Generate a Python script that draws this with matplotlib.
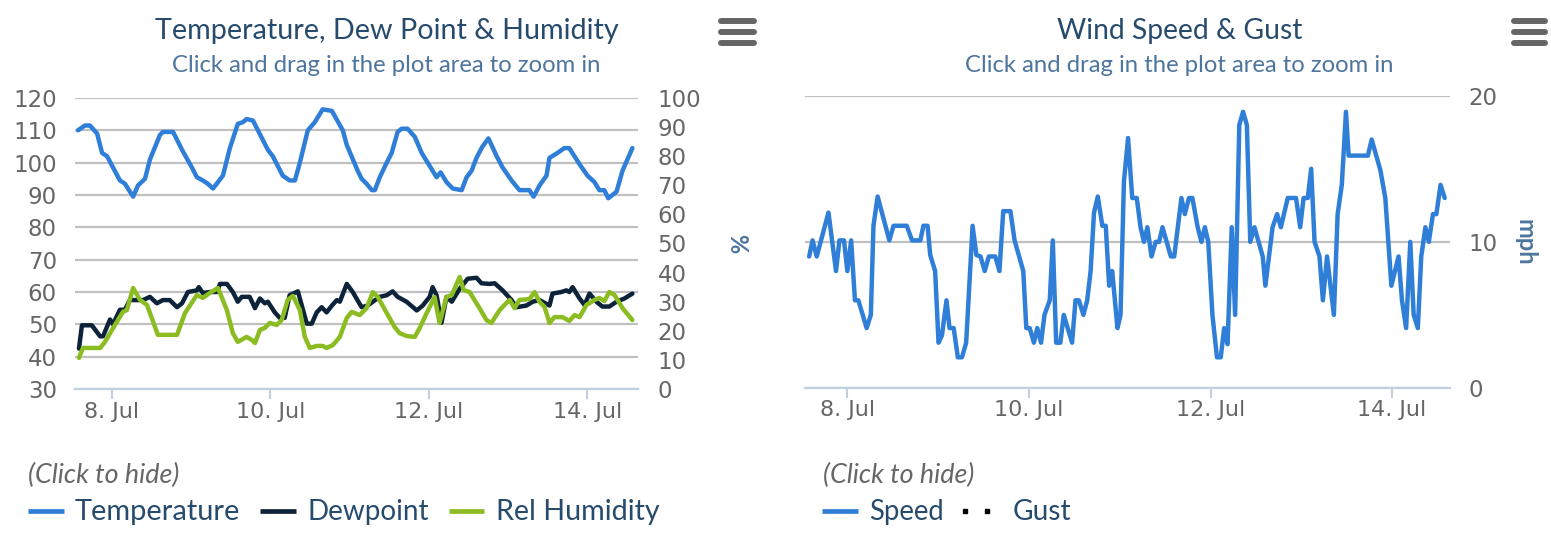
import numpy as np
import matplotlib
matplotlib.use("Agg")
import matplotlib.pyplot as plt
from matplotlib.lines import Line2D

# ---------------- data (hours since 8 Jul 00:00) ----------------
temp_hours = [-10.3, -8.2, -6.7, -4.5, -3.0, -1.5, 2.4, 3.9, 6.4, 7.9, 10.0, 11.5,
              14.5, 15.4, 18.5, 21.2, 24.2, 25.7, 27.5, 29.0, 30.6, 33.6, 35.7, 38.1,
              39.6, 40.8, 42.7, 45.7, 47.2, 48.7, 51.7, 53.8, 55.4, 56.9, 59.3, 61.4,
              63.8, 66.6, 69.9, 71.1, 74.4, 75.6, 77.1, 78.7, 79.6, 81.1, 83.2, 84.7,
              86.5, 87.7, 89.5, 91.7, 93.8, 95.6, 97.1, 98.3, 99.5, 101.3, 103.2, 105.9,
              107.4, 108.9, 110.4, 112.2, 114.0, 116.5, 118.3, 121.0, 123.4, 126.4, 127.7, 129.5,
              131.6, 132.5, 134.9, 137.0, 138.5, 141.6, 144.0, 146.1, 147.6, 149.1, 150.3, 152.8,
              154.6, 157.6]
temp_values = [110, 111.5, 111.5, 109, 103, 102, 94.5, 93.5, 89.5, 93, 95, 101,
               108.5, 109.5, 109.5, 104, 98.5, 95.5, 94.5, 93.5, 92, 96, 104.5, 112,
               112.5, 113.5, 113, 107, 104, 102, 96, 94.5, 94.5, 100, 110, 112.5,
               116.5, 116, 110, 105.5, 97.5, 95, 93.5, 91.5, 91.5, 95.5, 100, 103,
               109.5, 110.5, 110.5, 108, 103, 100, 97.5, 95.5, 97, 94, 92, 91.5,
               95.5, 97.5, 101.5, 105, 107.5, 102, 98.5, 94.5, 91.5, 91.5, 89.5, 93,
               96, 101.5, 103, 104.5, 104.5, 99.5, 96, 94, 91.5, 91.5, 89, 91,
               97.5, 104.5]

dew_hours = [-10.0, -9.1, -6.1, -3.6, -2.7, -0.6, 0.3, 2.4, 3.9, 5.4,
             9.4, 11.5, 13.6, 15.4, 17.5, 19.7, 21.2, 23.0, 25.7, 26.3,
             27.5, 29.6, 31.8, 32.7, 34.8, 36.6, 38.1, 39.3, 41.7, 43.3,
             44.8, 46.3, 47.2, 49.3, 50.8, 52.3, 53.8, 56.3, 59.0, 60.5,
             62.0, 63.5, 65.0, 66.6, 68.1, 69.0, 71.1, 72.9, 75.6, 77.4,
             79.0, 81.1, 83.2, 85.0, 86.5, 89.2, 92.3, 94.1, 96.2, 97.1,
             98.3, 99.8, 101.3, 102.9, 105.3, 107.7, 110.4, 111.9, 114.3, 115.9,
             118.3, 121.0, 122.5, 125.5, 127.4, 129.5, 132.5, 133.4, 136.1, 137.6,
             138.5, 139.5, 141.6, 143.1, 144.6, 146.7, 148.5, 150.6, 152.8, 155.2,
             157.6]
dew_values = [42.5, 49.7, 49.7, 46.3, 46.3, 51.5, 50, 54.5, 54.5, 57.5,
              57.5, 58.5, 56.5, 57.5, 57.5, 55.3, 56.5, 60, 60.5, 61.5,
              59.7, 60, 60, 62.5, 62.5, 60, 57, 58.5, 58.5, 55,
              58, 56.5, 57, 53.7, 52, 52, 59, 60.2, 50.2, 50.2,
              53.7, 55.3, 53.7, 55.8, 57.5, 57, 62.5, 60, 55.3, 55.8,
              57, 58.5, 59, 60.2, 58.5, 57, 54.3, 55.8, 58.5, 61.5,
              59, 50.5, 58.5, 57, 61, 64.1, 64.4, 62.7, 62.5, 62.7,
              60.5, 57.5, 55.3, 55.8, 57, 57.5, 55.8, 59.5, 60, 60.5,
              60, 61.5, 58, 56, 59.5, 57, 55.5, 55.5, 57, 58,
              59.5]

hum_hours = [-10.0, -8.8, -3.6, -2.1, 0.0, 1.8, 3.3, 4.5, 6.4, 8.5,
             10.6, 13.9, 19.7, 22.1, 25.7, 27.5, 29.6, 32.1, 34.8, 36.6,
             38.1, 40.8, 42.4, 43.3, 44.8, 46.3, 47.8, 49.9, 51.4, 53.2,
             54.8, 56.9, 58.4, 59.9, 62.0, 63.8, 65.0, 66.9, 69.0, 71.1,
             72.6, 75.0, 77.1, 79.0, 80.5, 83.2, 85.6, 87.1, 89.2, 91.7,
             93.2, 95.3, 97.7, 99.2, 101.3, 102.9, 105.3, 106.5, 108.3, 111.3,
             113.4, 114.9, 117.4, 119.5, 120.4, 121.9, 123.4, 126.4, 128.0, 129.5,
             131.0, 132.5, 134.0, 136.4, 138.5, 140.1, 141.6, 143.7, 145.2, 146.1,
             147.6, 149.1, 150.6, 152.2, 154.6, 157.6]
hum_values = [10.7, 14.1, 14.1, 16.2, 20.3, 23.7, 26.5, 27.1, 34.7, 30.6,
              28.9, 18.6, 18.6, 26.1, 32.3, 31.3, 33, 34.7, 27.1, 19.2,
              16.2, 17.9, 16.8, 15.8, 20.3, 21, 22.7, 22, 23.7, 30.6,
              32, 27.1, 17.9, 14.1, 14.8, 14.8, 14.1, 15.1, 17.9, 24.4,
              26.5, 25.4, 27.8, 33.3, 31.6, 26.1, 21.3, 19.2, 18.2, 17.9,
              21, 26.1, 31.6, 22.7, 31.6, 32.3, 38.5, 34, 33.3, 27.8,
              23.7, 22.7, 27.1, 29.6, 30.6, 27.8, 30.6, 30.9, 33.3, 29.9,
              28.2, 22.7, 24.7, 24.7, 23.4, 25.4, 24.7, 28.9, 29.9, 30.6,
              31.3, 30.2, 33.3, 32.3, 27.8, 23.7]

wind_hours = [-10.1, -9.2, -8.1, -5.0, -3.0, -2.1, -0.9, 0.0, 1.0, 2.0,
              2.9, 5.1, 6.2, 6.9, 8.0, 11.1, 12.2, 15.7, 17.1, 19.3,
              20.1, 21.2, 21.9, 23.2, 24.1, 25.0, 26.2, 27.0, 28.1, 29.2,
              30.3, 31.4, 33.1, 34.1, 35.2, 36.3, 37.4, 39.1, 40.2, 41.2,
              43.1, 44.2, 46.5, 47.3, 48.2, 49.3, 50.2, 51.2, 52.1, 53.5,
              54.3, 55.2, 56.3, 57.2, 59.4, 60.3, 61.2, 62.4, 63.4, 64.3,
              65.2, 66.2, 67.4, 68.3, 69.2, 70.0, 71.4, 72.2, 73.1, 74.2,
              75.3, 76.5, 77.5, 78.4, 79.3, 80.4, 81.5, 82.4, 83.3, 85.5,
              86.4, 88.3, 89.2, 90.3, 91.2, 92.6, 93.6, 94.5, 95.4, 96.5,
              97.7, 98.7, 99.6, 100.5, 101.6, 102.5, 103.6, 104.6, 105.6, 106.5,
              107.6, 109.8, 110.5, 112.4, 113.6, 114.6, 116.4, 118.6, 119.7, 120.6,
              121.7, 122.6, 123.5, 124.8, 125.7, 126.8, 128.6, 129.6, 130.7, 131.8,
              132.5, 137.6, 138.6, 140.9, 142.2, 143.8, 145.7, 146.6, 147.7, 148.8,
              149.7, 150.8, 151.7, 152.8, 153.7, 154.8, 155.7, 156.8, 157.9]
wind_speed = [9.0, 10.1, 9.0, 12.0, 8.0, 10.1, 10.1, 8.0, 10.1, 6.0,
              6.0, 4.1, 5.0, 11.1, 13.1, 10.1, 11.1, 11.1, 10.1, 10.1,
              11.1, 11.1, 9.1, 8.0, 3.1, 3.6, 6.0, 4.1, 4.1, 2.1,
              2.1, 3.1, 11.1, 9.1, 9.0, 8.0, 9.0, 9.0, 8.0, 12.1,
              12.1, 10.1, 8.0, 4.1, 4.1, 3.1, 4.1, 3.1, 5.0, 6.0,
              10.1, 3.1, 3.1, 5.0, 3.1, 6.0, 6.0, 5.0, 6.0, 8.0,
              12.0, 13.1, 11.1, 11.1, 7.0, 8.0, 4.1, 5.0, 14.1, 17.1,
              13.0, 13.0, 11.0, 10.0, 11.0, 9.0, 10.0, 10.0, 11.0, 9.0,
              9.0, 13.0, 11.9, 13.0, 13.0, 11.0, 10.0, 11.0, 10.0, 5.0,
              2.1, 2.1, 4.1, 3.0, 11.0, 5.0, 18.0, 18.9, 18.0, 10.0,
              11.0, 9.0, 7.0, 11.0, 11.9, 11.0, 13.0, 13.0, 11.0, 13.0,
              13.0, 15.0, 10.0, 9.0, 6.0, 9.0, 5.0, 11.9, 13.9, 18.9,
              15.9, 15.9, 17.0, 14.9, 13.0, 7.0, 9.0, 6.0, 4.1, 10.0,
              5.0, 4.1, 9.0, 11.0, 10.0, 11.9, 11.9, 13.9, 13.0]
gust_hours = []
gust_values = []

tick_hours = [0, 48, 96, 144]
tick_labels = ['8. Jul', '10. Jul', '12. Jul', '14. Jul']
x_range_hours = [-11.2, 159.3]

title_left = 'Temperature, Dew Point & Humidity'
title_right = 'Wind Speed & Gust'
subtitle = 'Click and drag in the plot area to zoom in'

C_TEMP, C_DEW, C_HUM = '#2f7ed8', '#0d233a', '#8bbc21'
C_SPEED, C_GUST = '#2f7ed8', '#000000'
GRID, AXLINE, LABEL = '#C0C0C0', '#C0D0E0', '#666666'
TITLE_C, SUB_C = '#274b6d', '#4d759e'

# ---------------- figure ----------------
W, H = 1551, 540
fig = plt.figure(figsize=(W / 100, H / 100), dpi=100)
fig.patch.set_facecolor('white')
BASE = np.datetime64('2018-07-08T00:00')


def hrs(h):
    return BASE + np.round(np.asarray(h, dtype=float) * 60).astype('timedelta64[m]')


def box(x0, y0, x1, y1):
    return [x0 / W, 1 - y1 / H, (x1 - x0) / W, (y1 - y0) / H]


def fx(x):
    return x / W


def fy(y):
    return 1 - y / H


TICKFONT = 'DejaVu Sans'
TXTFONT = 'Lato'
LW = 3.2
line_kw = dict(lw=LW, solid_joinstyle='round', solid_capstyle='round')


def style_x(ax):
    ax.set_xlim(hrs(x_range_hours))
    ax.set_xticks(hrs(tick_hours))
    ax.set_xticklabels(tick_labels, family=TICKFONT)
    ax.tick_params(axis='x', length=7, width=1.5, color=AXLINE, labelsize=16,
                   labelcolor=LABEL, pad=2)
    for s in ['top', 'left', 'right']:
        ax.spines[s].set_visible(False)
    ax.spines['bottom'].set_color(AXLINE)
    ax.spines['bottom'].set_linewidth(1.6)
    ax.spines['bottom'].set_zorder(5)


# ----- left chart -----
ax1 = fig.add_axes(box(75, 98, 638, 389))
ax1.plot(hrs(temp_hours), temp_values, color=C_TEMP, zorder=3, **line_kw)
ax1.plot(hrs(dew_hours), dew_values, color=C_DEW, zorder=3, **line_kw)
ax1.set_ylim(30, 120)
ax1.set_yticks(np.arange(30, 121, 10))
ax1.grid(axis='y', color=GRID, lw=1.6)
ax1.set_axisbelow(True)
style_x(ax1)
ax1.tick_params(axis='y', length=0, labelsize=16.5, labelcolor=LABEL, pad=13)
for t in ax1.get_yticklabels():
    t.set_family(TICKFONT)

ax1b = ax1.twinx()
ax1b.plot(hrs(hum_hours), hum_values, color=C_HUM, zorder=3, **line_kw)
ax1b.set_ylim(0, 100)
ax1b.set_yticks(np.arange(0, 101, 10))
for s in ax1b.spines.values():
    s.set_visible(False)
ax1b.tick_params(axis='y', length=0, labelsize=16.5, labelcolor=LABEL, pad=14)
for t in ax1b.get_yticklabels():
    t.set_family(TICKFONT)
ax1b.set_ylabel('%', rotation=270, color=SUB_C, fontsize=17, fontweight='bold',
                family=TXTFONT, ha='center', va='center')
ax1b.yaxis.set_label_coords((737 - 75) / 563, 0.5)

# ----- right chart -----
ax2 = fig.add_axes(box(805, 95.7, 1450, 388))
ax2.plot(hrs(wind_hours), wind_speed, color=C_SPEED, zorder=3, **line_kw)
ax2.plot(hrs(gust_hours), gust_values, color=C_GUST, ls=':', lw=LW)
ax2.set_ylim(0, 20)
ax2.set_yticks([0, 10, 20])
ax2.grid(axis='y', color=GRID, lw=1.6)
ax2.set_axisbelow(True)
style_x(ax2)
ax2.yaxis.tick_right()
ax2.yaxis.set_label_position('right')
ax2.tick_params(axis='y', length=0, labelsize=16.5, labelcolor=LABEL, pad=13)
for t in ax2.get_yticklabels():
    t.set_family(TICKFONT)
ax2.set_ylabel('mph', rotation=270, color=SUB_C, fontsize=17, fontweight='bold',
               family=TXTFONT, ha='center', va='center')
ax2.yaxis.set_label_coords((1525 - 805) / 645, 0.5)

# ----- titles -----
renderer = fig.canvas.get_renderer()


def fit(t, width):
    w = t.get_window_extent(renderer).width
    t.set_fontsize(t.get_fontsize() * width / w)
    return t


fit(fig.text(fx(387), fy(39), title_left, ha='center', va='baseline',
             color=TITLE_C, family=TXTFONT, fontsize=18), 462)
fit(fig.text(fx(386), fy(72), subtitle, ha='center', va='baseline',
             color=SUB_C, family=TXTFONT, fontsize=14), 432)
fit(fig.text(fx(1180), fy(39), title_right, ha='center', va='baseline',
             color=TITLE_C, family=TXTFONT, fontsize=18), 245)
fit(fig.text(fx(1179), fy(72), subtitle, ha='center', va='baseline',
             color=SUB_C, family=TXTFONT, fontsize=14), 432)

# ----- hamburger icons -----
for x0, x1 in [(721, 754), (1514, 1545)]:
    for yy in (21, 32, 43):
        fig.add_artist(Line2D([fx(x0), fx(x1)], [fy(yy), fy(yy)], lw=4.3,
                              color='#666666', solid_capstyle='round'))

# ----- legends -----
def click_hint(x):
    fit(fig.text(fx(x), fy(483), '(Click to hide)', ha='left', va='baseline',
                 color=LABEL, style='italic', family=TXTFONT, fontsize=14), 152)


def leg_item(x_line0, x_line1, x_text, label, color, width, dotted=False):
    if dotted:
        fig.add_artist(Line2D([fx(x_line0 + 2), fx(x_line1 - 2)], [fy(511), fy(511)],
                              lw=0, marker='s', markersize=3.0, color=color,
                              markevery=1))
    else:
        fig.add_artist(Line2D([fx(x_line0), fx(x_line1)], [fy(511), fy(511)],
                              lw=3.4, color=color, solid_capstyle='butt'))
    fit(fig.text(fx(x_text), fy(520), label, ha='left', va='baseline',
                 color=TITLE_C, family=TXTFONT, fontsize=18), width)


click_hint(28)
leg_item(28, 64, 75, 'Temperature', C_TEMP, 165)
leg_item(260, 296, 308, 'Dewpoint', C_DEW, 121)
leg_item(449, 484, 496, 'Rel Humidity', C_HUM, 163)

click_hint(823)
leg_item(822, 858, 869, 'Speed', C_SPEED, 75)
leg_item(963, 989, 1013, 'Gust', C_GUST, 58, dotted=True)

fig.savefig('out.png', dpi=100, facecolor='white')
